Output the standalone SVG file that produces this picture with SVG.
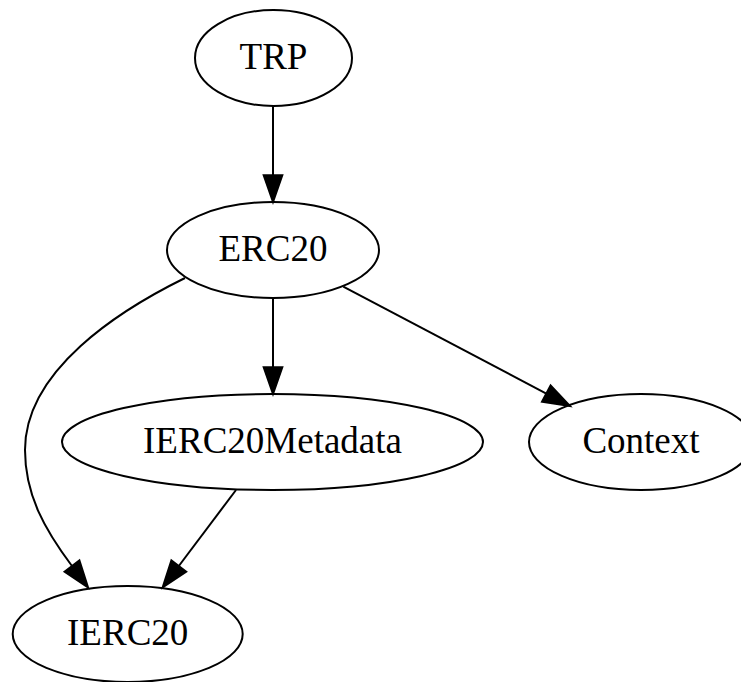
<svg xmlns="http://www.w3.org/2000/svg" width="741" height="682" viewBox="0 0 741 682">
<style>
.node ellipse{fill:none;stroke:#000;stroke-width:2}
.node text{font-family:"Liberation Serif","Times New Roman",serif;font-size:37px;fill:#000;text-anchor:middle}
.edge path{fill:none;stroke:#000;stroke-width:2}
.edge polygon{fill:#000;stroke:#000;stroke-width:2}
</style>
<rect width="741" height="682" fill="#fff"/>
<g id="connectors">
<g class="edge" id="TRP-ERC20">
<path d="M273,106 L273,175.3"/>
<polygon points="273,202 263.7,175.3 282.3,175.3"/>
</g>
<g class="edge" id="ERC20-IERC20Metadata">
<path d="M273,298 L273,367.3"/>
<polygon points="273,394 263.7,367.3 282.3,367.3"/>
</g>
<g class="edge" id="ERC20-Context">
<path d="M343.3,286.7 L546.3,393.6"/>
<polygon points="570,406 542,401.8 550.6,385.4"/>
</g>
<g class="edge" id="ERC20-IERC20">
<path d="M185,278 C120,310 25,370 25,450 C25,495 45,530 72,566"/>
<polygon points="88,587.4 64.6,571.6 79.4,560.4"/>
</g>
<g class="edge" id="IERC20Metadata-IERC20">
<path d="M236,490 L178.8,566"/>
<polygon points="162.7,587.3 171.4,560.4 186.2,571.6"/>
</g>
</g>
<g class="node" id="TRP">
<ellipse cx="273.5" cy="58" rx="78.5" ry="48"/>
<text x="273.5" y="69">TRP</text>
</g>
<g class="node" id="ERC20">
<ellipse cx="273" cy="250" rx="106" ry="48"/>
<text x="273" y="261">ERC20</text>
</g>
<g class="node" id="IERC20Metadata">
<ellipse cx="272.5" cy="442" rx="210.5" ry="48"/>
<text x="272.5" y="453">IERC20Metadata</text>
</g>
<g class="node" id="Context">
<ellipse cx="641" cy="442" rx="112" ry="48"/>
<text x="641" y="453">Context</text>
</g>
<g class="node" id="IERC20">
<ellipse cx="127.7" cy="634" rx="115" ry="48"/>
<text x="127.7" y="645">IERC20</text>
</g>
</svg>
